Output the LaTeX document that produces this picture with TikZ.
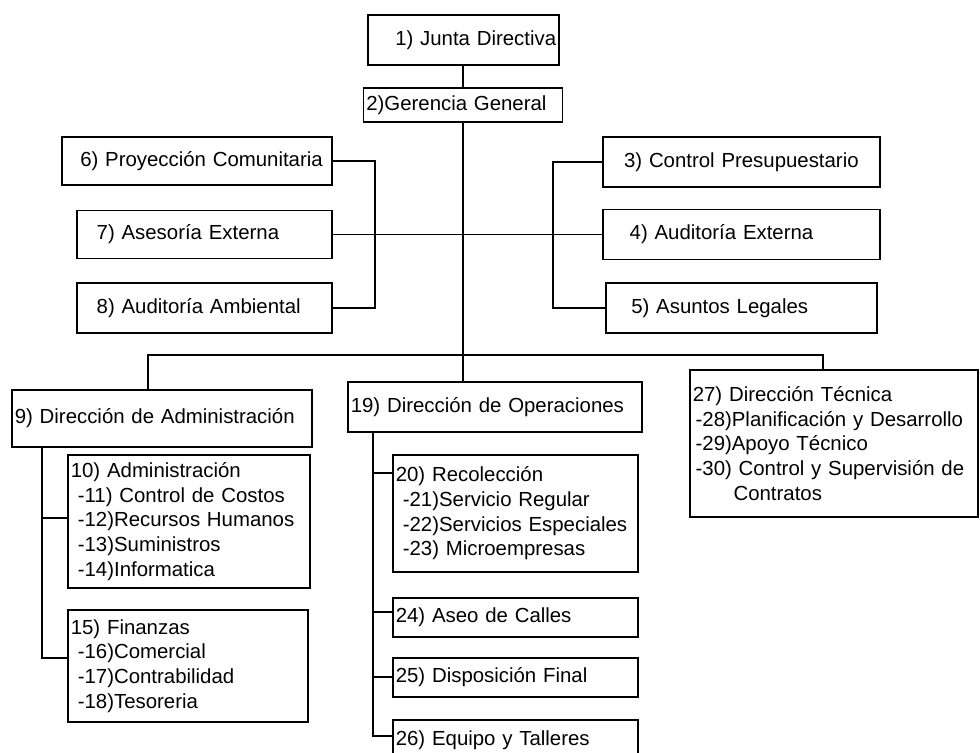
\documentclass[tikz,border=0pt]{standalone}
\usepackage{fontspec}
\setmainfont{Liberation Sans}
\newcommand{\subItem}{\hspace*{5pt}}
\newcommand{\padText}[1]{\hspace*{#1pt}}
\newcommand{\orgBox}[7][]{%%
  %% A box of the chart: name, centre x, centre y, width, height (in px).
  \pgfmathsetlengthmacro{\boxWidth}{#5*0.025cm}%%
  \pgfmathsetlengthmacro{\boxHeight}{#6*0.025cm}%%
  \pgfmathsetlengthmacro{\boxText}{#5*0.025cm-4pt}%%
  \node[boxStyle,minimum width=\boxWidth,minimum height=\boxHeight,text width=\boxText,#1] (#2) at (#3,#4) {#7};
}

\begin{document}
\begin{tikzpicture}[%%
  x=0.025cm,y=-0.025cm,%%
  boxStyle/.style={draw,line width=1pt,rectangle,inner xsep=2pt,inner ysep=1pt,align=left,font=\fontsize{14.5}{17.5}\selectfont},%%
  lineStyle/.style={-,line width=1pt}%%
]
%%
%%
\useasboundingbox (0,0) rectangle (980,753);
\clip (0,0) rectangle (980,753);
%% The top of the chart.
\orgBox[align=right]{jd}{463.5}{40}{191}{50}{1) Junta Directiva}
\orgBox{gg}{463}{105}{199}{34}{2)Gerencia General}
%% The staff units on the left.
\orgBox{pc}{197}{161}{270}{48}{\padText{11}6) Proyección Comunitaria}
\orgBox{ae}{204.5}{234.5}{255}{48}{\padText{12}7) Asesoría Externa}
\orgBox{aa}{204.5}{308}{255}{50}{\padText{12}8) Auditoría Ambiental}
%% The staff units on the right.
\orgBox{cp}{741.5}{162}{277}{50}{\padText{13}3) Control Presupuestario}
\orgBox{aue}{741.5}{234.5}{277}{50}{\padText{17}4) Auditoría Externa}
\orgBox{al}{741.5}{308}{271}{50}{\padText{16}5) Asuntos Legales}
%% The three directions.
\orgBox{da}{162}{418.5}{300}{57}{9) Dirección de Administración}
\orgBox{do}{495}{407}{294}{50}{19) Dirección de Operaciones}
\orgBox{dt}{834}{443.5}{288}{147}{27) Dirección Técnica\\
  \hspace*{2pt}-28)Planificación y Desarrollo\\
  \hspace*{2pt}-29)Apoyo Técnico\\
  \hspace*{2pt}-30) Control y Supervisión de\\
  \hspace*{29pt}Contratos}
%% Under the administration.
\orgBox{ad}{189}{521.5}{242}{133}{10) Administración\\
  \subItem-11) Control de Costos\\
  \subItem-12)Recursos Humanos\\
  \subItem-13)Suministros\\
  \subItem-14)Informatica}
\orgBox{fi}{188}{666}{240}{112}{15) Finanzas\\
  \subItem-16)Comercial\\
  \subItem-17)Contrabilidad\\
  \subItem-18)Tesoreria}
%% Under the operations.
\orgBox{re}{515.5}{513.5}{245}{117}{20) Recolección\\
  \subItem-21)Servicio Regular\\
  \subItem-22)Servicios Especiales\\
  \subItem-23) Microempresas}
\orgBox{ac}{515.5}{617.5}{245}{39}{24) Aseo de Calles}
\orgBox{df}{515.5}{677.5}{245}{39}{25) Disposición Final}
\orgBox{et}{515.5}{740}{245}{40}{26) Equipo y Talleres}
%%
%% The joints of the connectors.
\coordinate (leftBar) at (375,234);
\coordinate (rightBar) at (553,234);
\coordinate (busLeft) at (148,355);
\coordinate (busRight) at (823,355);
\coordinate (j10) at (42,518);
\coordinate (j15) at (42,658);
\coordinate (j20) at (373,473);
\coordinate (j24) at (373,612);
\coordinate (j25) at (373,677);
\coordinate (j26) at (373,736);
%%
%% The trunk.
\draw[lineStyle] (gg.north) -- (gg.north |- jd.south);
\draw[lineStyle] (gg.south) -- (gg.south |- do.north);
%% The staff brackets.
\draw[lineStyle] (pc.east) -- (pc.east -| leftBar) -- (aa.east -| leftBar) -- (aa.east);
\draw[lineStyle] (cp.west) -- (cp.west -| rightBar) -- (al.west -| rightBar) -- (al.west);
\draw[lineStyle] (ae.east) -- (aue.west);
%% The bus to the directions.
\draw[lineStyle] (busLeft |- da.north) -- (busLeft) -- (busRight) -- (busRight |- dt.north);
%% The administration spine.
\draw[lineStyle] (da.south -| j10) -- (j15) -- (j15 -| fi.west);
\draw[lineStyle] (j10) -- (j10 -| ad.west);
%% The operations spine.
\draw[lineStyle] (do.south -| j20) -- (j26) -- (j26 -| et.west);
\foreach \joint/\unit in {j20/re,j24/ac,j25/df}
  \draw[lineStyle] (\joint) -- (\joint -| \unit.west);
\end{tikzpicture}
\end{document}
